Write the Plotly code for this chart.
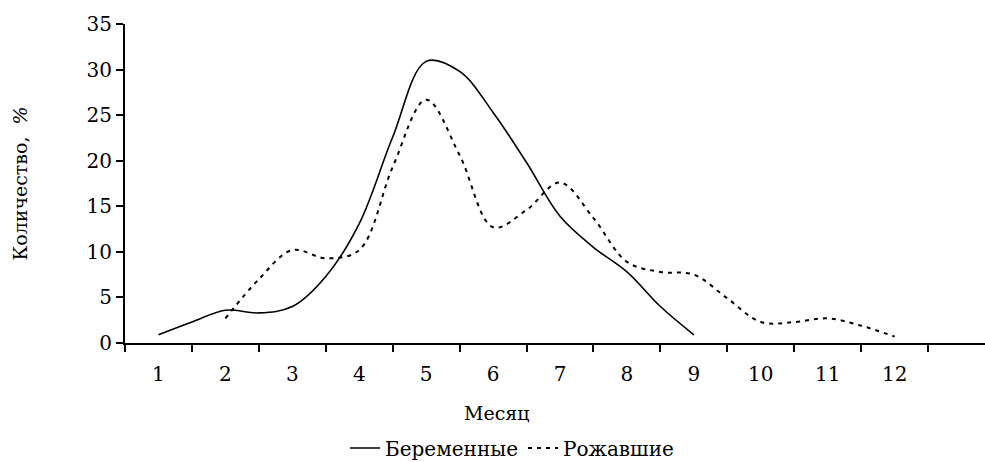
import plotly.graph_objects as go

# Month positions (at half-month steps)
months_pregnant = [1, 1.5, 2, 2.5, 3, 3.5, 4, 4.5, 5, 5.5, 6, 6.5, 7, 7.5, 8, 8.5, 9]
pregnant = [0.9, 2.3, 3.6, 3.3, 4.0, 7.3, 13.1, 22.6, 30.9, 29.8, 25.3, 19.8, 13.9, 10.5, 7.8, 4.0, 0.9]

months_delivered = [2, 2.5, 3, 3.5, 4, 4.5, 5, 5.5, 6, 6.5, 7, 7.5, 8, 8.5, 9, 9.5, 10, 10.5, 11, 11.5, 12]
delivered = [2.7, 7.0, 10.2, 9.3, 10.2, 19.3, 26.7, 20.6, 12.7, 14.6, 17.6, 13.7, 8.9, 7.8, 7.5, 4.9, 2.3, 2.3, 2.7, 1.9, 0.7]

month_ticks = list(range(1, 13))
month_labels = [str(m) for m in month_ticks]
y_ticks = [0, 5, 10, 15, 20, 25, 30, 35]

FONT = "DejaVu Serif"

fig = go.Figure()
fig.add_trace(go.Scatter(
    x=months_pregnant, y=pregnant, mode="lines", name="Беременные",
    line=dict(color="black", width=1.6, shape="spline", smoothing=1.0),
))
fig.add_trace(go.Scatter(
    x=months_delivered, y=delivered, mode="lines", name="Рожавшие",
    line=dict(color="black", width=2, dash="4px,5px", shape="spline", smoothing=1.0),
))

fig.update_layout(
    width=985, height=462,
    margin=dict(l=125, r=0, t=24, b=119, autoexpand=False),
    paper_bgcolor="white", plot_bgcolor="white",
    font=dict(family=FONT, size=19, color="black"),
    showlegend=True,
    legend=dict(orientation="h", x=0.45, xanchor="center", y=-0.329, yanchor="middle",
                font=dict(family=FONT, size=20, color="black"), bgcolor="rgba(0,0,0,0)"),
    xaxis=dict(
        range=[0.5, 13.35], tickmode="array", tickvals=month_ticks, ticktext=month_labels,
        ticks="", showgrid=False, zeroline=False, showline=True, linecolor="black", linewidth=2,
        ticklabelstandoff=12, automargin=False,
        minor=dict(tick0=0.5, dtick=1, ticks="outside", ticklen=7, tickwidth=2, tickcolor="black",
                   showgrid=False),
        tickfont=dict(family=FONT, size=20),
    ),
    yaxis=dict(
        range=[0, 35], tickmode="array", tickvals=y_ticks, ticks="outside", ticklen=7,
        tickwidth=2, tickcolor="black", showgrid=False, zeroline=False, showline=True,
        linecolor="black", linewidth=2, tickfont=dict(family=FONT, size=20), automargin=False,
    ),
    annotations=[
        dict(text="Месяц", xref="paper", yref="paper", x=0.4326, y=-0.219,
             xanchor="center", yanchor="middle", showarrow=False,
             font=dict(family=FONT, size=19)),
        dict(text="Количество,  <i>%</i>", xref="paper", yref="paper",
             x=-0.1221, y=0.5, xanchor="center", yanchor="middle", textangle=-90,
             showarrow=False, font=dict(family=FONT, size=19)),
    ],
)

fig.write_html("out.html", config={"displayModeBar": False},
               post_script="document.body.style.margin='0';document.body.style.overflow='hidden';")
